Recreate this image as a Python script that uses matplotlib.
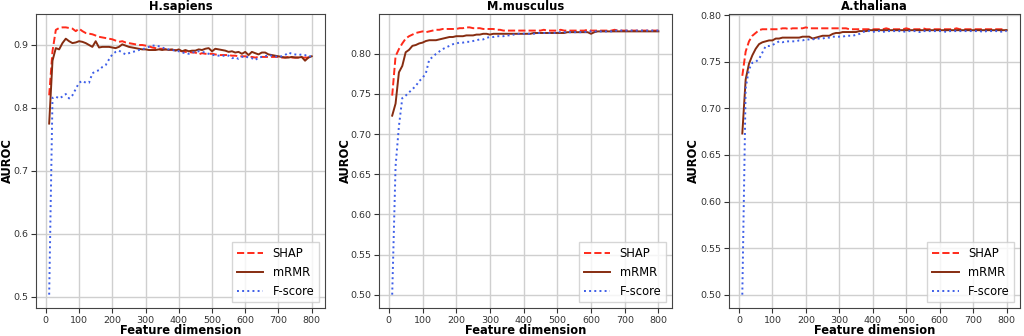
import matplotlib
matplotlib.use('Agg')
import matplotlib.pyplot as plt
import numpy as np

# feature dimension, step 10
dimensiones = list(range(10, 801, 10))

# H.sapiens
hs_shap = [0.820, 0.890, 0.924, 0.927, 0.928, 0.928, 0.927, 0.926, 0.922, 0.926,
           0.922, 0.919, 0.918, 0.917, 0.915, 0.913, 0.912, 0.911, 0.910, 0.909,
           0.907, 0.905, 0.906, 0.904, 0.903, 0.902, 0.901, 0.900, 0.900, 0.899,
           0.898, 0.896, 0.895, 0.894, 0.894, 0.893, 0.893, 0.892, 0.892, 0.891,
           0.890, 0.889, 0.889, 0.888, 0.888, 0.885, 0.887, 0.886, 0.886, 0.886,
           0.885, 0.884, 0.884, 0.884, 0.884, 0.883, 0.883, 0.882, 0.882, 0.882,
           0.881, 0.881, 0.880, 0.881, 0.881, 0.881, 0.881, 0.881, 0.881, 0.881,
           0.880, 0.880, 0.881, 0.880, 0.880, 0.880, 0.880, 0.880, 0.880, 0.882]
hs_mrmr = [0.775, 0.875, 0.895, 0.893, 0.903, 0.910, 0.906, 0.903, 0.904, 0.906,
           0.905, 0.903, 0.900, 0.897, 0.906, 0.896, 0.897, 0.897, 0.897, 0.896,
           0.895, 0.897, 0.901, 0.899, 0.897, 0.896, 0.895, 0.894, 0.893, 0.893,
           0.892, 0.892, 0.892, 0.893, 0.892, 0.893, 0.892, 0.893, 0.891, 0.893,
           0.890, 0.892, 0.890, 0.891, 0.891, 0.893, 0.892, 0.894, 0.895, 0.890,
           0.894, 0.893, 0.892, 0.891, 0.889, 0.890, 0.888, 0.889, 0.886, 0.889,
           0.884, 0.889, 0.887, 0.885, 0.888, 0.888, 0.885, 0.884, 0.883, 0.882,
           0.881, 0.880, 0.880, 0.881, 0.880, 0.880, 0.881, 0.875, 0.880, 0.882]
hs_fscore = [0.503, 0.816, 0.818, 0.815, 0.818, 0.822, 0.815, 0.820, 0.830, 0.840,
             0.843, 0.840, 0.840, 0.855, 0.858, 0.860, 0.865, 0.868, 0.877, 0.885,
             0.889, 0.891, 0.888, 0.885, 0.887, 0.889, 0.890, 0.892, 0.893, 0.895,
             0.897, 0.899, 0.899, 0.898, 0.896, 0.894, 0.893, 0.892, 0.891, 0.890,
             0.888, 0.887, 0.886, 0.888, 0.889, 0.890, 0.889, 0.888, 0.886, 0.884,
             0.884, 0.883, 0.882, 0.884, 0.883, 0.879, 0.880, 0.878, 0.881, 0.882,
             0.880, 0.879, 0.876, 0.880, 0.881, 0.882, 0.884, 0.883, 0.882, 0.881,
             0.882, 0.884, 0.888, 0.886, 0.885, 0.884, 0.885, 0.884, 0.881, 0.883]

# M.musculus
mm_shap = [0.748, 0.797, 0.806, 0.813, 0.819, 0.822, 0.824, 0.826, 0.827, 0.828,
           0.827, 0.828, 0.829, 0.830, 0.830, 0.831, 0.831, 0.831, 0.831, 0.831,
           0.832, 0.832, 0.833, 0.833, 0.832, 0.832, 0.832, 0.831, 0.831, 0.831,
           0.831, 0.830, 0.830, 0.829, 0.829, 0.829, 0.829, 0.829, 0.829, 0.829,
           0.829, 0.829, 0.829, 0.829, 0.829, 0.830, 0.829, 0.829, 0.829, 0.829,
           0.830, 0.829, 0.829, 0.829, 0.829, 0.829, 0.829, 0.829, 0.830, 0.829,
           0.829, 0.829, 0.829, 0.829, 0.829, 0.829, 0.830, 0.829, 0.829, 0.829,
           0.829, 0.829, 0.829, 0.829, 0.829, 0.829, 0.829, 0.829, 0.829, 0.829]
mm_mrmr = [0.723, 0.738, 0.777, 0.785, 0.802, 0.805, 0.810, 0.811, 0.813, 0.814,
           0.816, 0.817, 0.817, 0.817, 0.818, 0.819, 0.820, 0.821, 0.821, 0.822,
           0.822, 0.822, 0.823, 0.823, 0.823, 0.824, 0.824, 0.825, 0.825, 0.824,
           0.825, 0.825, 0.825, 0.825, 0.825, 0.825, 0.825, 0.825, 0.825, 0.825,
           0.825, 0.825, 0.826, 0.826, 0.826, 0.826, 0.826, 0.826, 0.826, 0.826,
           0.826, 0.826, 0.827, 0.827, 0.827, 0.827, 0.827, 0.827, 0.827, 0.825,
           0.827, 0.828, 0.828, 0.828, 0.828, 0.828, 0.828, 0.828, 0.828, 0.828,
           0.828, 0.828, 0.828, 0.828, 0.828, 0.828, 0.828, 0.828, 0.828, 0.828]
mm_fscore = [0.500, 0.660, 0.710, 0.745, 0.748, 0.752, 0.756, 0.760, 0.766, 0.770,
             0.776, 0.793, 0.796, 0.800, 0.803, 0.806, 0.808, 0.810, 0.812, 0.813,
             0.814, 0.814, 0.815, 0.815, 0.816, 0.817, 0.818, 0.818, 0.820, 0.821,
             0.821, 0.822, 0.822, 0.822, 0.823, 0.823, 0.824, 0.825, 0.825, 0.825,
             0.825, 0.825, 0.825, 0.826, 0.826, 0.826, 0.826, 0.826, 0.826, 0.827,
             0.827, 0.827, 0.827, 0.827, 0.827, 0.827, 0.827, 0.827, 0.828, 0.828,
             0.828, 0.828, 0.828, 0.828, 0.828, 0.828, 0.829, 0.829, 0.829, 0.829,
             0.829, 0.829, 0.829, 0.829, 0.829, 0.829, 0.829, 0.829, 0.829, 0.829]

# A.thaliana
at_shap = [0.735, 0.761, 0.772, 0.778, 0.781, 0.784, 0.785, 0.785, 0.785, 0.785,
           0.785, 0.785, 0.786, 0.786, 0.785, 0.786, 0.786, 0.786, 0.786, 0.787,
           0.786, 0.786, 0.786, 0.786, 0.786, 0.786, 0.786, 0.786, 0.786, 0.786,
           0.786, 0.786, 0.785, 0.785, 0.785, 0.785, 0.785, 0.785, 0.785, 0.785,
           0.785, 0.785, 0.785, 0.786, 0.785, 0.785, 0.785, 0.785, 0.785, 0.786,
           0.785, 0.785, 0.785, 0.785, 0.786, 0.785, 0.785, 0.785, 0.785, 0.785,
           0.785, 0.785, 0.785, 0.785, 0.786, 0.785, 0.785, 0.785, 0.785, 0.785,
           0.785, 0.785, 0.785, 0.785, 0.785, 0.785, 0.785, 0.785, 0.785, 0.784]
at_mrmr = [0.673, 0.731, 0.748, 0.757, 0.764, 0.769, 0.771, 0.772, 0.773, 0.773,
           0.775, 0.775, 0.776, 0.776, 0.776, 0.776, 0.776, 0.776, 0.777, 0.777,
           0.777, 0.775, 0.776, 0.777, 0.778, 0.778, 0.778, 0.780, 0.781, 0.781,
           0.782, 0.782, 0.782, 0.782, 0.782, 0.783, 0.783, 0.783, 0.784, 0.784,
           0.784, 0.784, 0.784, 0.784, 0.784, 0.784, 0.784, 0.784, 0.784, 0.784,
           0.784, 0.784, 0.784, 0.784, 0.784, 0.784, 0.784, 0.784, 0.784, 0.784,
           0.784, 0.784, 0.784, 0.784, 0.784, 0.784, 0.784, 0.784, 0.784, 0.784,
           0.784, 0.784, 0.784, 0.784, 0.784, 0.784, 0.784, 0.784, 0.784, 0.784]
at_fscore = [0.500, 0.722, 0.742, 0.749, 0.750, 0.753, 0.760, 0.767, 0.767, 0.768,
             0.770, 0.772, 0.771, 0.772, 0.772, 0.772, 0.772, 0.773, 0.773, 0.774,
             0.774, 0.774, 0.775, 0.775, 0.775, 0.776, 0.776, 0.777, 0.777, 0.777,
             0.777, 0.778, 0.778, 0.778, 0.779, 0.780, 0.782, 0.783, 0.783, 0.782,
             0.783, 0.783, 0.782, 0.783, 0.783, 0.783, 0.783, 0.783, 0.782, 0.783,
             0.783, 0.783, 0.783, 0.782, 0.783, 0.783, 0.783, 0.783, 0.783, 0.783,
             0.783, 0.782, 0.783, 0.783, 0.783, 0.783, 0.783, 0.783, 0.783, 0.783,
             0.783, 0.783, 0.782, 0.783, 0.783, 0.783, 0.783, 0.782, 0.783, 0.783]

especies = ['H.sapiens', 'M.musculus', 'A.thaliana']
datos = {
    'H.sapiens': (hs_shap, hs_mrmr, hs_fscore),
    'M.musculus': (mm_shap, mm_mrmr, mm_fscore),
    'A.thaliana': (at_shap, at_mrmr, at_fscore),
}

colores = {'SHAP': '#ff2a1a', 'mRMR': '#862c10', 'F-score': '#3d5ee8'}
estilos = {'SHAP': '--', 'mRMR': '-', 'F-score': ':'}

# posiciones de los ejes [izq, abajo, ancho, alto]
posiciones = [
    [0.0352, 0.0833, 0.282, 0.875],
    [0.370, 0.0833, 0.286, 0.875],
    [0.712, 0.0833, 0.284, 0.875],
]
# posicion x de la etiqueta AUROC (coordenadas del eje)
pos_etiqueta_y = [-0.075, -0.092, -0.099]

figura = plt.figure(figsize=(10.24, 3.36), dpi=100)

for especie, pos, xlab in zip(especies, posiciones, pos_etiqueta_y):
    eje = figura.add_axes(pos)
    eje.set_axisbelow(True)
    eje.grid(True, color='#cfcfcf', linewidth=1.0)
    for nombre, valores in zip(['SHAP', 'mRMR', 'F-score'], datos[especie]):
        eje.plot(dimensiones, valores, color=colores[nombre],
                 linestyle=estilos[nombre], linewidth=1.4, label=nombre)
    eje.set_title(especie, fontsize=8.3, fontweight='bold', pad=3)
    eje.set_xlabel('Feature dimension', fontsize=8.3, fontweight='bold', labelpad=-0.5)
    eje.set_ylabel('AUROC', fontsize=8.3, fontweight='bold')
    eje.yaxis.set_label_coords(xlab, 0.5)
    eje.tick_params(labelsize=6.8, colors='#333333', length=3.5, pad=2)
    for lado in eje.spines.values():
        lado.set_color('#444444')
    eje.legend(loc='lower right', fontsize=8.3, fancybox=False,
               edgecolor='#cccccc', handlelength=2.3)

figura.savefig('out.png', dpi=100)
